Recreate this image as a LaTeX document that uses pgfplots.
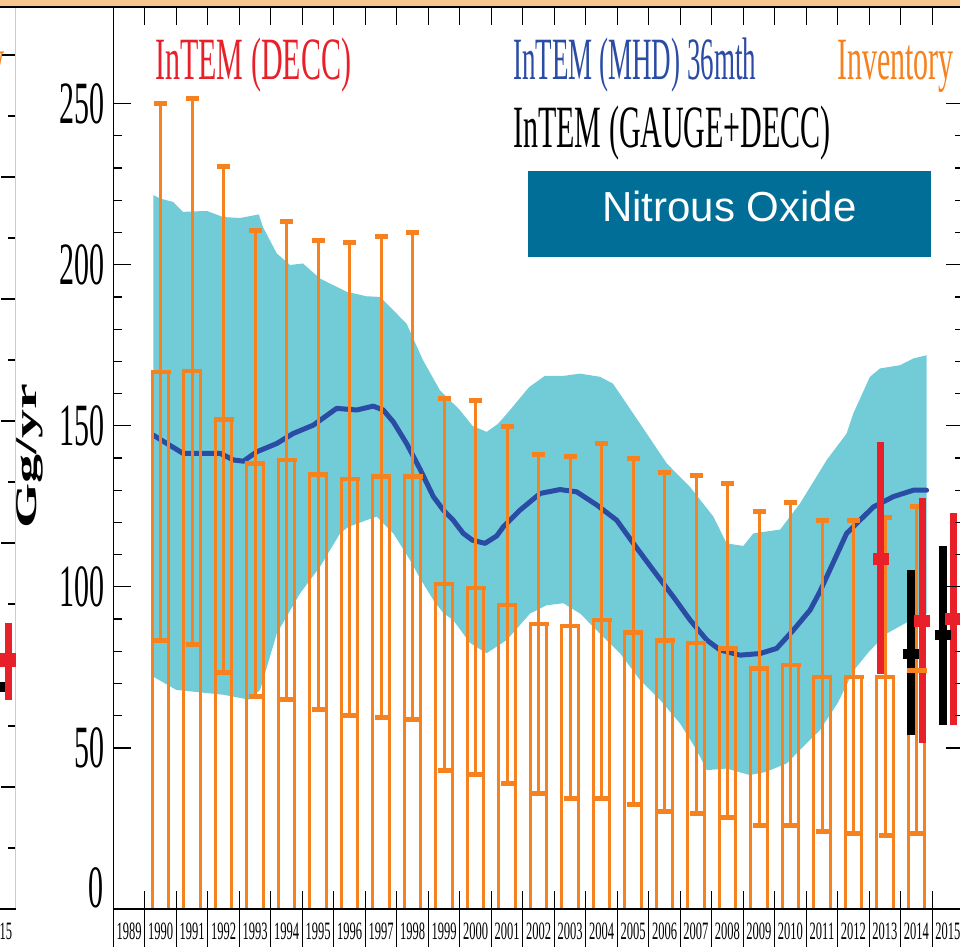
\documentclass[border=0pt]{standalone}
\usepackage{pgfplots}
\pgfplotsset{compat=1.18}
\usepackage{fontspec}
\setmainfont{Liberation Serif}
\newfontfamily\cserif[FakeStretch=0.5]{Liberation Serif}
\newfontfamily\sansf{Liberation Sans}
\definecolor{teal1}{RGB}{114,204,216}
\definecolor{blue1}{RGB}{42,76,164}
\definecolor{orange1}{RGB}{245,130,31}
\definecolor{red1}{RGB}{232,32,42}
\definecolor{box1}{RGB}{0,110,150}
\definecolor{band1}{RGB}{247,198,145}
\begin{document}
\begin{tikzpicture}[x=1pt,y=1pt]
\useasboundingbox (0,0) rectangle (960,947);
\clip (0,0) rectangle (960,947);
\fill[band1] (0,940) rectangle (960,947);

% sliver of the neighbouring panel
\begin{axis}[at={(15.5pt,38pt)}, anchor=south east, scale only axis,
 width=283.5pt, height=902pt,
 xmin=2007, xmax=2016, ymin=0, ymax=147.87,
 xtick={2007,...,2016}, minor x tick num=3, x tick label as interval,
 xticklabels={2007,2008,2009,2010,2011,2012,2013,2014,2015},
 ytick={0,20,...,140}, minor y tick num=1, yticklabels={},
 tick align=inside, major tick length=15pt, minor tick length=8pt,
 tick style={black, line width=1.2pt},
 axis line style={black!20, line width=1pt},
 xticklabel style={font=\cserif\fontsize{25}{30}\selectfont, anchor=north, inner sep=0pt, yshift=-14pt},
]
\addplot[black, only marks, mark=-, mark size=8pt, mark options={black, line width=10pt}] coordinates {(2015.4,36.4)};
\addplot[red1, only marks, mark=-, mark size=8pt, mark options={red1, line width=14pt},
 error bars/.cd, y dir=both, y explicit, error mark=none, error bar style={red1, line width=7pt}]
 coordinates {(2015.77,40.8) += (0,6.1) -= (0,6.5)};
\end{axis}
\node[anchor=base east, inner sep=0pt, text=orange1, font=\cserif\fontsize{60}{60}\selectfont] at (5,867) {Inventory};

% main panel
\begin{axis}[at={(113.3pt,38pt)}, anchor=south west, scale only axis,
 width=850.5pt, height=902pt,
 xmin=1989, xmax=2016, ymin=0, ymax=280,
 axis on top,
 xtick={1989,...,2016}, minor x tick num=3, x tick label as interval,
 xticklabels={1989,1990,1991,1992,1993,1994,1995,1996,1997,1998,1999,2000,2001,2002,2003,2004,2005,2006,2007,2008,2009,2010,2011,2012,2013,2014,2015},
 ytick={50,100,150,200,250}, yticklabels={50,100,150,200,250}, minor y tick num=4,
 tick align=inside, major tick length=18pt, minor tick length=9pt,
 tick style={black, line width=1.2pt},
 axis line style={black, line width=1.6pt},
 xticklabel style={font=\cserif\fontsize{25}{30}\selectfont, anchor=north, inner sep=0pt, yshift=-14pt},
 yticklabel style={font=\cserif\fontsize{60}{60}\selectfont, anchor=east, inner sep=0pt, xshift=-9pt},
]
% InTEM (MHD) uncertainty band
\addplot[fill=teal1, draw=none] coordinates {
(1990.27,221.6)(1990.5,220.5)(1990.9,219.5)(1991.21,216.4)(1991.97,216.7)(1992.48,214.8)(1993.02,214.5)(1993.62,215.6)(1993.75,211.7)(1994.19,203.5)(1994.61,199.9)(1995.02,200.4)(1995.56,195.7)(1996.41,191.6)(1997.04,190.2)(1997.47,190)(1998.31,181.7)(1998.83,170.4)(1999.37,161)(2000.0,154.9)(2000.4,150)(2000.85,148.1)(2001.2,150.5)(2001.5,153.8)(2002.2,162)(2002.7,165.5)(2003.3,165.5)(2003.82,166.2)(2004.45,165.2)(2004.86,163.1)(2005.72,150.7)(2006.57,138.3)(2007.31,131)(2008.05,121.8)(2008.47,113.5)(2009.0,112.7)(2009.32,116.6)(2010.17,117.8)(2010.8,125.9)(2011.65,139.4)(2012.28,147.6)(2012.49,153.8)(2013.02,165.2)(2013.34,167.8)(2013.97,168.8)(2014.4,170.9)(2014.82,171.9)
(2014.82,91.7)(2014.2,89)(2013.55,85.5)(2013.0,80)(2012.5,74)(2012.0,64)(2011.43,55.5)(2010.9,50.4)(2010.38,45.2)(2009.7,42.5)(2009.2,41.6)(2008.47,43.6)(2007.84,43.1)(2007.52,49.3)(2006.99,57.6)(2006.36,64.9)(2005.72,71.1)(2005.09,79.3)(2004.45,85.5)(2003.82,91.7)(2003.29,94.9)(2002.76,94.3)(2002.23,91.7)(2001.49,83.5)(2000.85,79.4)(2000.32,82.6)(1999.79,89.7)(1999.48,91.8)(1999.16,95.9)(1998.74,102.6)(1998.42,108.3)(1997.89,116.6)(1997.36,121.8)(1997.04,120.7)(1996.46,118.6)(1996.2,116.6)(1995.56,106.2)(1994.93,98)(1994.19,85.5)(1993.66,68)(1993.3,65)(1992.5,66.5)(1991.0,68)(1990.27,72.1)
} -- cycle;
% InTEM (MHD) 36mth
\addplot[blue1, line width=5pt, line cap=round, line join=round] coordinates {
(1990.27,147.1)(1990.7,144.5)(1991.22,141.4)(1992.07,141.4)(1992.4,141.4)(1992.81,139.4)(1993.13,139)(1993.55,141.9)(1994.19,144.5)(1994.71,147.6)(1995.35,150.2)(1996.09,155.4)(1996.73,154.9)(1997.25,156.1)(1997.57,154.9)(1997.89,151.2)(1998.31,144.5)(1998.74,136.5)(1999.16,128)(1999.48,123.8)(1999.79,120.7)(2000.11,116.6)(2000.4,114.5)(2000.8,113.5)(2001.17,115.8)(2001.38,118.6)(2001.91,123.8)(2002.55,129)(2003.18,130.2)(2003.71,129.5)(2004.35,125.4)(2004.98,120.7)(2005.51,113.5)(2006.14,105.2)(2006.78,96.9)(2007.31,89.7)(2007.84,83.5)(2008.26,80.4)(2008.9,78.8)(2009.53,79.3)(2010.06,80.9)(2010.59,86.6)(2011.12,92.8)(2011.43,98.5)(2012.28,116.6)(2013.13,124.8)(2013.76,128)(2014.4,130)(2014.82,130)
};
% Inventory boxes
\addplot[ybar, bar width=0.53, draw=orange1, fill=none, line width=3pt] coordinates {
(1990.5,166.7)(1991.5,167)(1992.5,152)(1993.5,138.3)(1994.5,139.4)(1995.5,134.9)(1996.5,133.5)(1997.5,134.2)(1998.5,134.2)(1999.5,100.9)(2000.5,99.7)(2001.5,94.4)(2002.5,88.5)(2003.5,87.8)(2004.5,89.7)(2005.5,85.8)(2006.5,83.3)(2007.5,82.5)(2008.5,80.8)(2009.5,74.6)(2010.5,75.7)(2011.5,72)(2012.5,72)(2013.5,72)(2014.5,74)
};
% Inventory central values and uncertainty
\addplot[orange1, only marks, mark=-, mark size=10pt, mark options={orange1, line width=4.5pt},
 error bars/.cd, y dir=both, y explicit, error mark=|,
 error bar style={orange1, line width=3pt},
 error mark options={orange1, line width=5pt, mark size=6.5pt}] coordinates {
(1990.5,166.7) += (0,83.3) -= (0,83.5)
(1991.5,167) += (0,84.6) -= (0,85)
(1992.5,152) += (0,78.4) -= (0,78.7)
(1993.5,138.3) += (0,72.4) -= (0,72.3)
(1994.5,139.4) += (0,73.9) -= (0,74.4)
(1995.5,134.9) += (0,72.5) -= (0,72.9)
(1996.5,133.5) += (0,73.3) -= (0,73.5)
(1997.5,134.2) += (0,74.5) -= (0,74.6)
(1998.5,134.2) += (0,75.8) -= (0,75.5)
(1999.5,100.9) += (0,57.7) -= (0,58)
(2000.5,99.7) += (0,58.1) -= (0,58.1)
(2001.5,94.4) += (0,55.5) -= (0,55.4)
(2002.5,88.5) += (0,52.7) -= (0,52.8)
(2003.5,87.8) += (0,52.8) -= (0,53.4)
(2004.5,89.7) += (0,54.8) -= (0,55.3)
(2005.5,85.8) += (0,54.1) -= (0,53.5)
(2006.5,83.3) += (0,52.1) -= (0,52.9)
(2007.5,82.5) += (0,52.2) -= (0,52.8)
(2008.5,80.8) += (0,51.3) -= (0,52.3)
(2009.5,74.6) += (0,48.9) -= (0,48.8)
(2010.5,75.7) += (0,50.4) -= (0,49.9)
(2011.5,72) += (0,48.7) -= (0,48)
(2012.5,72) += (0,48.7) -= (0,48.7)
(2013.5,72) += (0,49.4) -= (0,49.3)
(2014.5,74) += (0,50.8) -= (0,50.7)
};
% InTEM (GAUGE+DECC)
\addplot[black, only marks, mark=-, mark size=8pt, mark options={black, line width=10pt},
 error bars/.cd, y dir=both, y explicit, error mark=none, error bar style={black, line width=8pt}]
 coordinates {(2014.32,79.3) += (0,25.9) -= (0,25.3) (2015.33,85) += (0,27.7) -= (0,27.9)};
% InTEM (DECC)
\addplot[red1, only marks, mark=-, mark size=8pt, mark options={red1, line width=12pt},
 error bars/.cd, y dir=both, y explicit, error mark=none, error bar style={red1, line width=7pt}]
 coordinates {(2013.36,108.6) += (0,36.4) -= (0,35.5) (2014.68,89.4) += (0,38.3) -= (0,38) (2015.67,90) += (0,33) -= (0,32.9)};
\end{axis}

% label separators below the year axis
\foreach \k in {0,...,27} {\draw[line width=1.2pt] ({113.3+31.5*\k},38) -- ({113.3+31.5*\k},0);}
\draw[line width=1.6pt] (0,940) -- (960,940);
\draw[line width=1.6pt] (0,38) -- (15.5,38);

\node[anchor=east, inner sep=0pt, font=\cserif\fontsize{60}{60}\selectfont] at (104,59) {0};
\node[rotate=90, inner sep=0pt, font=\bfseries\fontsize{58}{58}\selectfont] at (30,491) {\scalebox{1}[0.52]{Gg/yr}};

\node[anchor=base west, inner sep=0pt, text=red1, font=\cserif\fontsize{60}{60}\selectfont] at (155,867) {InTEM (DECC)};
\node[anchor=base west, inner sep=0pt, text=blue1, font=\cserif\fontsize{60}{60}\selectfont] at (513,867) {\scalebox{0.9}[1]{InTEM (MHD) 36mth}};
\node[anchor=base west, inner sep=0pt, text=orange1, font=\cserif\fontsize{60}{60}\selectfont] at (837,867) {Inventory};
\node[anchor=base west, inner sep=0pt, text=black, font=\cserif\fontsize{60}{60}\selectfont] at (513,799) {InTEM (GAUGE+DECC)};

\fill[box1] (528,690) rectangle (931,776);
\node[anchor=base, inner sep=0pt, text=white, font=\sansf\fontsize{42}{42}\selectfont] at (729.5,725) {Nitrous Oxide};
\end{tikzpicture}
\end{document}
